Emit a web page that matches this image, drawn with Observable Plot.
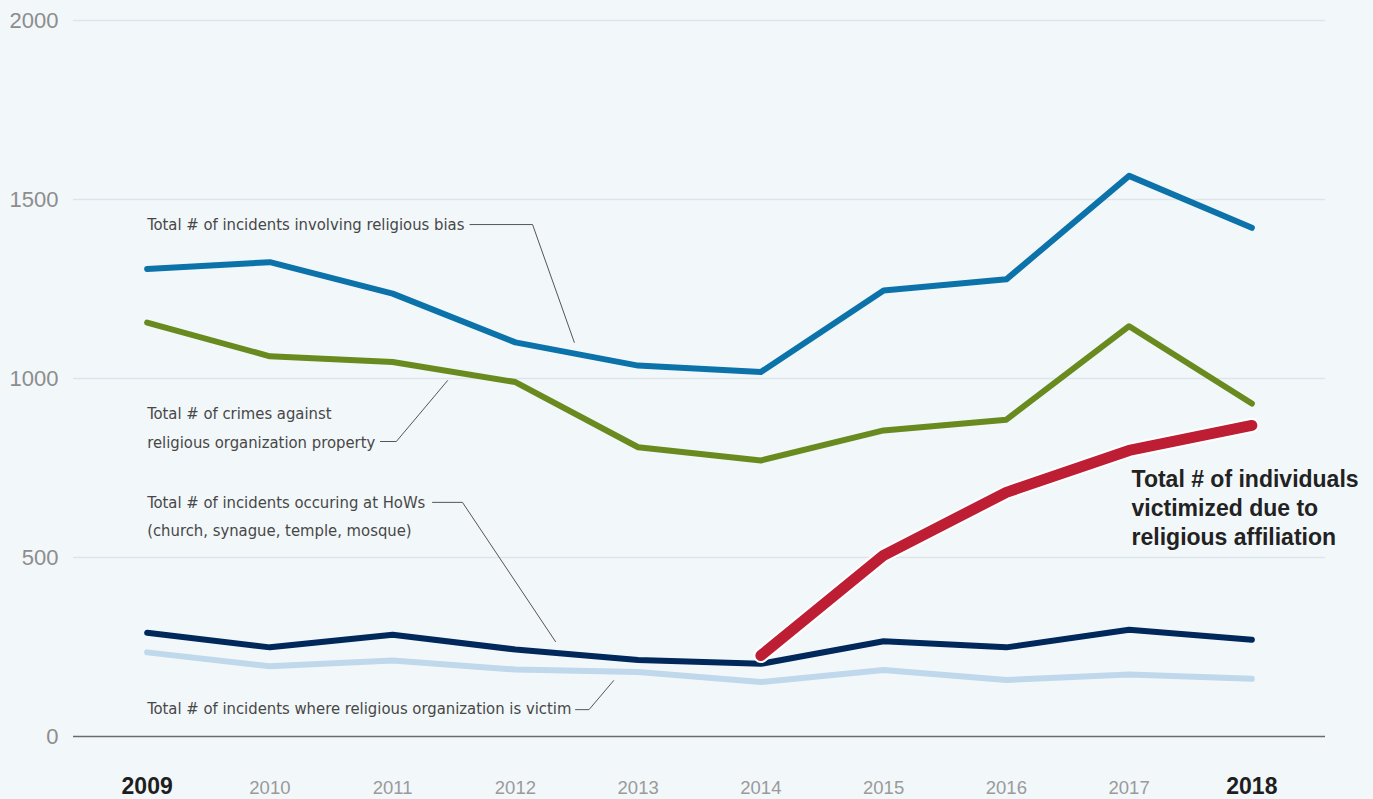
<!DOCTYPE html>
<html>
<head>
<meta charset="utf-8">
<script src="https://cdn.jsdelivr.net/npm/d3@7"></script>
<script src="https://cdn.jsdelivr.net/npm/@observablehq/plot@0.6"></script>
<style>
  html, body { margin: 0; padding: 0; background: #f2f7fa; overflow: hidden; }
</style>
</head>
<body>
<div id="chart"></div>
<script>
// ---- data ----
const years = [2009, 2010, 2011, 2012, 2013, 2014, 2015, 2016, 2017, 2018];
const boldYears = [2009, 2018];
const yTicks = [0, 500, 1000, 1500, 2000];
const biasIncidents = [1306, 1325, 1237, 1101, 1036, 1018, 1246, 1277, 1566, 1421];
const propertyCrimes = [1156, 1062, 1046, 990, 808, 771, 855, 885, 1146, 930];
const howIncidents = [290, 249, 284, 243, 214, 203, 266, 249, 298, 270];
const orgVictim = [235, 196, 212, 187, 180, 152, 186, 158, 173, 161];
const individualsYears = [2014, 2015, 2016, 2017, 2018];
const individualsVictimized = [226, 506, 682, 799, 869];

// annotation labels (anchored in data space)
const labelTexts = [
  "Total # of incidents involving religious bias",
  "Total # of crimes against\nreligious organization property",
  "Total # of incidents occuring at HoWs\n(church, synague, temple, mosque)",
  "Total # of incidents where religious organization is victim"
];
const labelX = [2009, 2009, 2009, 2009];
const labelY = [1441, 871, 625, 89];
const highlightText = "Total # of individuals\nvictimized due to\nreligious affiliation";
const highlightX = 2017.02;
const highlightY = 642;
// leader lines: [id, x, y]
const leaderIds = [0, 0, 0, 1, 1, 1, 2, 2, 2, 3, 3, 3];
const leaderX = [2011.63, 2012.14, 2012.48, 2010.9, 2011.03, 2011.447, 2011.325, 2011.569, 2012.327, 2012.49, 2012.6, 2012.8];
const leaderY = [1430, 1430, 1101, 824, 824, 994, 654, 654, 265, 75, 75, 156];

// ---- tables ----
const toRows = (xs, ys) => xs.map((x, i) => ({x, y: ys[i]}));
const bias = toRows(years, biasIncidents);
const prop = toRows(years, propertyCrimes);
const hows = toRows(years, howIncidents);
const victim = toRows(years, orgVictim);
const indiv = toRows(individualsYears, individualsVictimized);
const labels = labelTexts.map((t, i) => ({t, x: labelX[i], y: labelY[i]}));
const leaders = leaderIds.map((id, i) => ({id, x: leaderX[i], y: leaderY[i]}));
const regularYears = years.filter(y => !boldYears.includes(y));

const lineOpts = {x: "x", y: "y", strokeLinecap: "round", strokeLinejoin: "round"};
const sansFont = "'Liberation Sans', Arial, sans-serif";

const chart = Plot.plot({
  width: 1373,
  height: 799,
  marginTop: 20,
  marginBottom: 63,
  marginLeft: 73,
  marginRight: 48,
  x: {domain: [2008.4, 2018.6], axis: null},
  y: {domain: [0, 2000], axis: null},
  style: {background: "#f2f7fa", fontFamily: "'DejaVu Sans Condensed', 'DejaVu Sans', sans-serif", color: "#8d8d8d"},
  marks: [
    Plot.ruleY(yTicks.filter(d => d > 0), {stroke: "#dde5eb", strokeWidth: 1.5}),
    Plot.ruleY([0], {stroke: "#6b6b6b", strokeWidth: 1.5}),
    Plot.axisY({ticks: yTicks, tickFormat: d => String(d), tickSize: 0, tickPadding: 15, fontSize: 22, label: null,
      fontFamily: sansFont, fill: "#8d8d8d"}),
    Plot.text(regularYears, {x: d => d, text: d => String(d), frameAnchor: "bottom", lineAnchor: "middle", dy: 52,
      fontSize: 18.5, fill: "#9a9a9a", fontFamily: sansFont}),
    Plot.text(boldYears, {x: d => d, text: d => String(d), frameAnchor: "bottom", lineAnchor: "middle", dy: 50.5,
      fontSize: 23, fontWeight: "bold", fill: "#1e1e1e", fontFamily: sansFont}),
    Plot.line(victim, {...lineOpts, stroke: "#bfd8eb", strokeWidth: 6}),
    Plot.line(hows, {...lineOpts, stroke: "#00285b", strokeWidth: 6}),
    Plot.line(prop, {...lineOpts, stroke: "#688a1e", strokeWidth: 6}),
    Plot.line(bias, {...lineOpts, stroke: "#0b72aa", strokeWidth: 6}),
    Plot.line(indiv, {...lineOpts, stroke: "#ffffff", strokeWidth: 15}),
    Plot.line(indiv, {...lineOpts, stroke: "#bd1e34", strokeWidth: 11}),
    Plot.line(leaders, {x: "x", y: "y", z: "id", stroke: "#555", strokeWidth: 1}),
    Plot.text(labels, {x: "x", y: "y", text: "t", textAnchor: "start", fontSize: 16.5,
      lineHeight: 1.75, fill: "#474747"}),
    Plot.text([highlightText], {x: () => highlightX, y: () => highlightY, text: d => d,
      textAnchor: "start", fontSize: 23, fontWeight: "bold", lineHeight: 1.25, fill: "#222",
      fontFamily: sansFont})
  ]
});
document.getElementById("chart").append(chart);
</script>
</body>
</html>
